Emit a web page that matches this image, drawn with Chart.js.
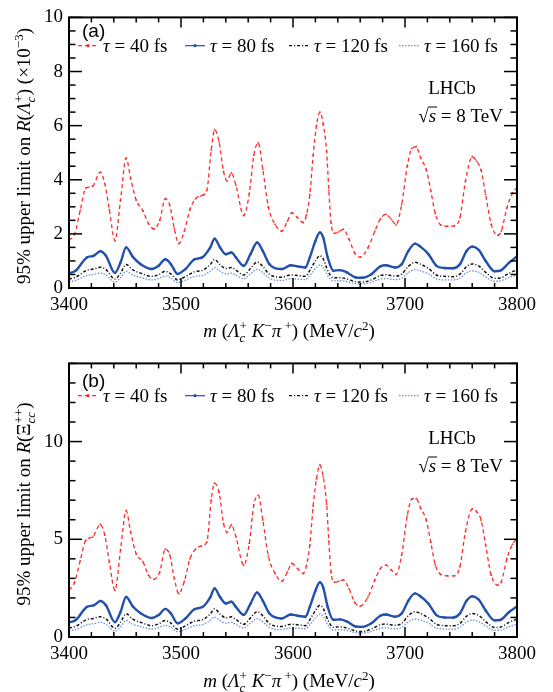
<!DOCTYPE html>
<html>
<head>
<meta charset="utf-8">
<script src="https://cdn.jsdelivr.net/npm/chart.js@4.4.1/dist/chart.umd.min.js"></script>
<style>
  body { margin: 0; background: #fff; }
  #wrap { position: relative; width: 553px; height: 692px; }
  #wrap canvas { position: absolute; left: 0; }
</style>
</head>
<body>
<div id="wrap">
  <canvas id="chartA" width="553" height="346" style="top:0"></canvas>
  <canvas id="chartB" width="553" height="346" style="top:346px"></canvas>
</div>
<script>
// mass points (MeV/c2) used for the tau = 40 fs curves
const massRed = [3400,3405,3410,3415,3421,3428,3432,3436,3441,3446,
  3451,3455,3460,3466,3471,3476,3481,3486,3490,3494,
  3498,3503,3508,3513,3518,3523,3527,3530,3534,3538,
  3541,3545,3549,3556,3561,3565,3569,3573,3578,3584,
  3590,3595,3599,3604,3609,3612,3615,3618,3621,3624,
  3627,3630,3632,3634,3637,3641,3645,3650,3655,3660,
  3667,3673,3678,3683,3688,3692,3697,3702,3706,3710,
  3714,3719,3723,3727,3732,3738,3744,3749,3754,3760,
  3764,3768,3772,3777,3783,3786,3791,3796,3800];

// panel (a): R(Lambda_c+) x 1e-3, tau = 40 fs
const limitA40 = [1.76,2.0,2.86,3.69,3.76,4.28,3.85,2.9,1.75,3.25,
  4.8,4.06,3.25,2.85,2.38,2.18,2.5,3.3,3.05,2.2,
  1.64,2.1,2.9,3.3,3.41,3.6,5.1,5.85,5.4,4.3,
  3.96,4.25,3.8,2.68,3.5,4.9,5.36,4.4,3.0,2.35,
  2.1,2.47,2.78,2.6,2.42,2.7,3.45,4.9,6.0,6.5,
  6.05,5.05,3.6,2.4,2.02,2.08,2.17,1.8,1.3,1.14,
  1.49,2.1,2.55,2.72,2.53,2.34,3.08,4.5,5.15,5.22,
  4.8,4.37,3.6,2.75,2.33,2.28,2.3,2.6,3.95,4.85,
  4.68,4.35,3.45,2.35,1.95,2.1,2.96,3.5,3.72];

// panel (b): R(Xi_cc++), tau = 40 fs
const limitB40 = [2.39,2.8,3.9,4.95,5.12,5.76,5.2,3.85,2.39,4.45,
  6.46,5.38,4.25,3.85,3.16,2.95,3.33,4.5,4.19,3.0,
  2.22,2.85,4.0,4.5,4.65,4.85,7.0,7.86,7.4,5.8,
  5.35,5.73,5.13,3.68,4.8,6.75,7.25,6.0,4.15,3.25,
  2.85,3.33,3.76,3.5,3.25,3.65,4.7,6.7,8.1,8.8,
  8.2,6.8,4.9,3.3,2.8,2.85,2.92,2.48,1.78,1.58,
  2.05,2.91,3.5,3.68,3.42,3.2,4.19,6.2,7.05,7.08,
  6.58,5.98,4.85,3.7,3.2,3.13,3.13,3.59,5.4,6.55,
  6.41,5.98,4.7,3.16,2.65,2.82,4.02,4.74,5.04];

// mass points for the longer lifetimes
const massLow = [3400,3406,3416,3422,3428,3433,3441,3446,3451,3457,
  3464,3474,3480,3486,3491,3497,3504,3512,3519,3526,
  3530,3535,3540,3545,3549,3556,3562,3568,3573,3579,
  3590,3598,3604,3611,3615,3620,3624,3627,3631,3636,
  3642,3648,3656,3662,3670,3678,3683,3691,3697,3703,
  3709,3714,3721,3728,3735,3743,3749,3755,3760,3766,
  3772,3780,3785,3793,3800];

const limitA80 = [0.54,0.64,1.13,1.19,1.36,1.19,0.56,0.94,1.5,1.15,
  0.88,0.7,0.82,1.06,0.88,0.52,0.7,1.06,1.13,1.49,
  1.82,1.49,1.25,1.31,1.13,0.82,1.25,1.68,1.37,0.88,
  0.7,0.84,0.8,0.76,1.13,1.74,2.05,1.86,1.13,0.64,
  0.66,0.58,0.39,0.38,0.51,0.8,0.84,0.76,0.88,1.37,
  1.64,1.52,1.25,0.82,0.74,0.73,0.88,1.37,1.53,1.4,
  1.0,0.62,0.64,0.94,1.17];
const limitA120 = [0.33,0.4,0.66,0.7,0.77,0.68,0.33,0.55,0.87,0.67,
  0.55,0.43,0.49,0.62,0.52,0.3,0.42,0.6,0.65,0.86,
  1.05,0.86,0.72,0.76,0.66,0.48,0.72,0.96,0.8,0.5,
  0.4,0.48,0.46,0.43,0.65,1.0,1.19,1.08,0.65,0.37,
  0.38,0.34,0.23,0.22,0.3,0.46,0.49,0.44,0.51,0.8,
  0.95,0.88,0.72,0.48,0.43,0.42,0.51,0.79,0.89,0.81,
  0.58,0.36,0.37,0.55,0.67];
const limitA160 = [0.23,0.28,0.46,0.5,0.55,0.48,0.22,0.38,0.62,0.48,
  0.39,0.3,0.35,0.44,0.37,0.2,0.29,0.43,0.46,0.62,
  0.75,0.62,0.52,0.55,0.47,0.34,0.52,0.69,0.57,0.36,
  0.28,0.34,0.33,0.31,0.46,0.72,0.85,0.77,0.46,0.26,
  0.27,0.24,0.16,0.15,0.21,0.33,0.35,0.31,0.36,0.57,
  0.68,0.63,0.52,0.34,0.3,0.3,0.36,0.57,0.63,0.58,
  0.41,0.25,0.26,0.39,0.48];

const limitB80 = [0.74,0.87,1.54,1.62,1.84,1.62,0.76,1.28,2.05,1.56,
  1.22,0.97,1.12,1.44,1.2,0.7,0.95,1.42,1.53,2.02,
  2.48,2.03,1.72,1.8,1.54,1.13,1.7,2.28,1.86,1.2,
  0.95,1.15,1.09,1.04,1.54,2.37,2.8,2.53,1.54,0.88,
  0.9,0.8,0.54,0.52,0.7,1.09,1.15,1.04,1.2,1.86,
  2.23,2.07,1.7,1.12,1.0,0.99,1.2,1.86,2.08,1.9,
  1.36,0.85,0.87,1.28,1.56];
const limitB120 = [0.46,0.55,0.9,0.95,1.04,0.93,0.45,0.75,1.19,0.91,
  0.75,0.58,0.67,0.84,0.71,0.4,0.57,0.81,0.88,1.17,
  1.44,1.17,0.98,1.03,0.9,0.65,0.98,1.3,1.09,0.68,
  0.54,0.65,0.63,0.58,0.88,1.36,1.62,1.47,0.88,0.5,
  0.52,0.46,0.31,0.28,0.41,0.63,0.66,0.6,0.69,1.09,
  1.29,1.2,0.98,0.65,0.58,0.57,0.69,1.07,1.2,1.1,
  0.79,0.48,0.5,0.75,0.92];
const limitB160 = [0.32,0.38,0.63,0.68,0.75,0.65,0.3,0.52,0.85,0.65,
  0.53,0.41,0.48,0.6,0.5,0.27,0.39,0.58,0.63,0.84,
  1.02,0.84,0.71,0.75,0.64,0.46,0.71,0.94,0.78,0.49,
  0.38,0.46,0.45,0.42,0.63,0.98,1.17,1.05,0.63,0.35,
  0.37,0.33,0.22,0.2,0.29,0.45,0.47,0.42,0.49,0.78,
  0.92,0.86,0.71,0.46,0.41,0.4,0.49,0.78,0.86,0.79,
  0.56,0.34,0.35,0.53,0.66];

const lifetimes = ['40', '80', '120', '160'];
const xTicks = [3400, 3500, 3600, 3700, 3800];
const yTicksA = [0, 2, 4, 6, 8, 10];
const yTicksB = [0, 5, 10];

const SERIF = '"Liberation Serif", "Times New Roman", serif';
const SANS = '"Liberation Sans", Arial, sans-serif';

// line look of each lifetime
const styles = [
  { color: '#ff2b2b', width: 1.3, dash: [4, 3], point: 'triangle', r: 1.4 },
  { color: '#2350ac', width: 2.4, dash: [], point: 'circle', r: 1.2 },
  { color: '#111111', width: 1.5, dash: [3, 2, 1, 2], point: 'circle', r: 0 },
  { color: '#6a8fe0', width: 1.3, dash: [1.5, 1.5], point: 'circle', r: 0 }
];

// text with italic / sub / sup pieces
function richLayout(ctx, segs, size) {
  let x = 0, lastX = 0;
  const items = [];
  for (const s of segs) {
    const small = s.sub || s.sup;
    const fs = small ? Math.round(size * 0.7) : size;
    const font = (s.it ? 'italic ' : '') + fs + 'px ' + SERIF;
    ctx.font = font;
    const w = ctx.measureText(s.t).width;
    const sx = s.stack ? lastX : x;
    items.push({ t: s.t, font: font, x: sx, dy: s.sub ? size * 0.28 : (s.sup ? -size * 0.38 : 0) });
    if (s.stack) x = Math.max(x, sx + w);
    else { lastX = sx; x = sx + w; }
  }
  return { items: items, width: x };
}

function drawRich(ctx, segs, size, x, y, align, angle) {
  const lay = richLayout(ctx, segs, size);
  let start = 0;
  if (align === 'center') start = -lay.width / 2;
  else if (align === 'right') start = -lay.width;
  ctx.save();
  ctx.translate(x, y);
  if (angle) ctx.rotate(angle);
  ctx.fillStyle = '#000';
  ctx.textBaseline = 'alphabetic';
  ctx.textAlign = 'left';
  for (const it of lay.items) {
    ctx.font = it.font;
    ctx.fillText(it.t, start + it.x, it.dy);
  }
  ctx.restore();
  lay.start = x + start;
  return lay;
}

function line(ctx, x1, y1, x2, y2) {
  ctx.beginPath();
  ctx.moveTo(x1, y1);
  ctx.lineTo(x2, y2);
  ctx.stroke();
}

const xTitle = [
  { t: 'm', it: true }, { t: ' (' }, { t: 'Λ', it: true }, { t: 'c', it: true, sub: true },
  { t: '+', sup: true, stack: true }, { t: ' K', it: true }, { t: '−', sup: true },
  { t: 'π', it: true }, { t: ' +', sup: true }, { t: ') (MeV/' }, { t: 'c', it: true },
  { t: '2', sup: true }, { t: ')' }
];

const panelA = {
  id: 'chartA', tag: '(a)', yMax: 10, yTicks: yTicksA, yMinor: 0.5, yMajor: 2,
  top: 15, bottom: 288, dy: 0,
  series: [[massRed, limitA40], [massLow, limitA80], [massLow, limitA120], [massLow, limitA160]],
  yTitle: [
    { t: '95% upper limit on ' }, { t: 'R', it: true }, { t: '(' }, { t: 'Λ', it: true },
    { t: 'c', it: true, sub: true }, { t: '+', sup: true, stack: true }, { t: ') (×10' },
    { t: '−3', sup: true }, { t: ')' }
  ]
};

const panelB = {
  id: 'chartB', tag: '(b)', yMax: 14, yTicks: yTicksB, yMinor: 1, yMajor: 5,
  top: 16, bottom: 291, dy: 4,
  series: [[massRed, limitB40], [massLow, limitB80], [massLow, limitB120], [massLow, limitB160]],
  yTitle: [
    { t: '95% upper limit on ' }, { t: 'R', it: true }, { t: '(Ξ' },
    { t: 'cc', it: true, sub: true }, { t: '++', sup: true, stack: true }, { t: ')' }
  ]
};

// frame, inward ticks, legend and labels in ROOT style
function decorPlugin(panel) {
  return {
    id: 'decor',
    afterDraw(chart) {
      const ctx = chart.ctx;
      const a = chart.chartArea;
      const xs = chart.scales.x, ys = chart.scales.y;
      const dy = panel.dy;
      ctx.save();
      ctx.strokeStyle = '#000';
      ctx.setLineDash([]);

      // x ticks, bottom and top
      ctx.lineWidth = 1.5;
      for (let v = 3400; v <= 3800; v += 20) {
        const px = xs.getPixelForValue(v);
        const len = (v % 100 === 0) ? 10 : 5;
        line(ctx, px, a.bottom, px, a.bottom - len);
        line(ctx, px, a.top, px, a.top + len);
      }
      // y ticks, left and right
      for (let v = 0; v <= panel.yMax + 1e-9; v += panel.yMinor) {
        const py = ys.getPixelForValue(v);
        const r = v / panel.yMajor;
        const len = Math.abs(r - Math.round(r)) < 1e-6 ? 13 : 6.5;
        line(ctx, a.left, py, a.left + len, py);
        line(ctx, a.right, py, a.right - len, py);
      }
      ctx.lineWidth = 2;
      ctx.strokeRect(a.left, a.top, a.right - a.left, a.bottom - a.top);

      // panel tag
      ctx.fillStyle = '#000';
      ctx.font = '19px ' + SANS;
      ctx.textAlign = 'left';
      ctx.textBaseline = 'alphabetic';
      ctx.fillText(panel.tag, 82, 37 + dy);

      // legend row
      const legX = [78, 185, 289, 399];
      const ly = 45.7 + dy;
      chart.data.datasets.forEach(function (ds, i) {
        const st = styles[i];
        ctx.strokeStyle = st.color;
        ctx.lineWidth = 1.2;
        ctx.setLineDash(st.dash);
        line(ctx, legX[i], ly, legX[i] + 20, ly);
        ctx.setLineDash([]);
        if (st.r > 0) {
          ctx.fillStyle = st.color;
          ctx.beginPath();
          ctx.arc(legX[i] + 10, ly, 1.6, 0, Math.PI * 2);
          ctx.fill();
        }
        drawRich(ctx, [{ t: 'τ', it: true }, { t: ' = ' + lifetimes[i] + ' fs' }], 19,
          legX[i] + 25, 52 + dy, 'left');
      });

      // experiment label
      ctx.fillStyle = '#000';
      ctx.font = '19px ' + SERIF;
      ctx.textAlign = 'center';
      ctx.fillText('LHCb', 452, 94 + dy);
      const lay = drawRich(ctx, [{ t: '√' }, { t: 's', it: true }, { t: ' = 8 TeV' }], 19,
        503, 122 + dy, 'right');
      ctx.strokeStyle = '#000';
      ctx.lineWidth = 1;
      const barY = 122 + dy - 15;
      line(ctx, lay.start + lay.items[1].x - 0.5, barY, lay.start + lay.items[2].x + 1, barY);

      // axis titles
      drawRich(ctx, panel.yTitle, 19, 30, 156 + dy / 2, 'center', -Math.PI / 2);
      drawRich(ctx, xTitle, 19, 289, 337 + dy, 'center');
      ctx.restore();
    }
  };
}

function buildChart(panel) {
  const ctx = document.getElementById(panel.id).getContext('2d');
  const datasets = panel.series.map(function (s, i) {
    const st = styles[i];
    return {
      label: 'τ = ' + lifetimes[i] + ' fs',
      data: s[0].map(function (m, k) { return { x: m, y: s[1][k] }; }),
      borderColor: st.color,
      backgroundColor: st.color,
      borderWidth: st.width,
      borderDash: st.dash,
      pointStyle: st.point,
      pointRadius: st.r,
      pointBorderWidth: 0,
      pointBackgroundColor: st.color,
      cubicInterpolationMode: 'monotone',
      fill: false,
      order: i
    };
  });

  // plain numbers on the axes, no thousands separator
  const plain = function (v) { return String(v); };

  return new Chart(ctx, {
    type: 'line',
    data: { datasets: datasets },
    options: {
      responsive: false,
      animation: false,
      devicePixelRatio: 1,
      layout: { padding: { left: 0, right: 36, top: panel.top, bottom: 0 } },
      plugins: { legend: { display: false }, tooltip: { enabled: false } },
      scales: {
        x: {
          type: 'linear', min: 3400, max: 3800,
          afterFit: function (s) { s.height = 346 - panel.bottom; },
          afterBuildTicks: function (s) { s.ticks = xTicks.map(function (v) { return { value: v }; }); },
          grid: { display: false, drawTicks: false },
          border: { display: false },
          ticks: { padding: 6, color: '#000', maxRotation: 0, callback: plain, font: { family: SERIF, size: 19 } }
        },
        y: {
          type: 'linear', min: 0, max: panel.yMax,
          afterFit: function (s) { s.width = 69; },
          afterBuildTicks: function (s) { s.ticks = panel.yTicks.map(function (v) { return { value: v }; }); },
          grid: { display: false, drawTicks: false },
          border: { display: false },
          ticks: { padding: 6, color: '#000', callback: plain, font: { family: SERIF, size: 19 } }
        }
      }
    },
    plugins: [decorPlugin(panel)]
  });
}

let chartA = buildChart(panelA);
let chartB = buildChart(panelB);
</script>
</body>
</html>
